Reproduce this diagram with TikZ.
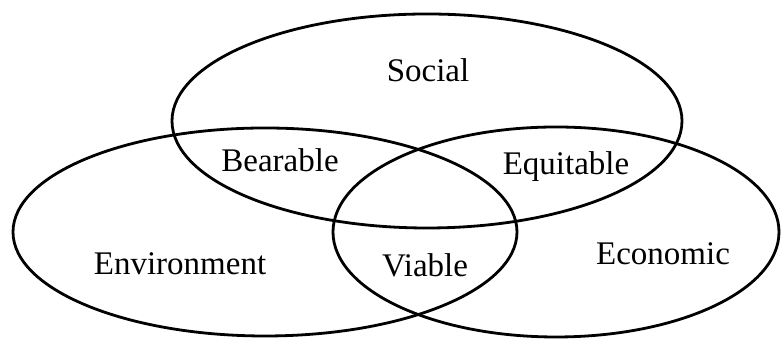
\documentclass[tikz,border=0pt]{standalone}
\usepackage{fontspec}
\setmainfont{Liberation Serif}
\usetikzlibrary{shapes.geometric,positioning}

\tikzset{
  circle set/.style={draw,ellipse,line width=1.4pt,inner sep=0pt},
  set label/.style={anchor=base,inner sep=0pt,font=\fontsize{16.5}{18}\selectfont}
}

\begin{document}
\begin{tikzpicture}[x=0.5pt,y=0.5pt]
  \useasboundingbox (0,0) rectangle (782,340);
  % the three circles of sustainability
  \node[circle set,minimum width=255pt,minimum height=107pt] (social) at (427,219) {};
  \node[circle set,minimum width=252pt,minimum height=104pt] (environment) at (265,108) {};
  \node[circle set,minimum width=223pt,minimum height=105pt] (economic) at (556,108) {};
  % labels
  \node[set label] (socialtext) at (428,258) {Social};
  \node[set label] (bearable) at (280,168) {Bearable};
  \node[set label] (equitable) at (566,165) {Equitable};
  \node[set label] (envtext) at (180,65) {Environment};
  \node[set label] (viable) at (425,63) {Viable};
  \node[set label] (econtext) at (663,75) {Economic};
\end{tikzpicture}
\end{document}
